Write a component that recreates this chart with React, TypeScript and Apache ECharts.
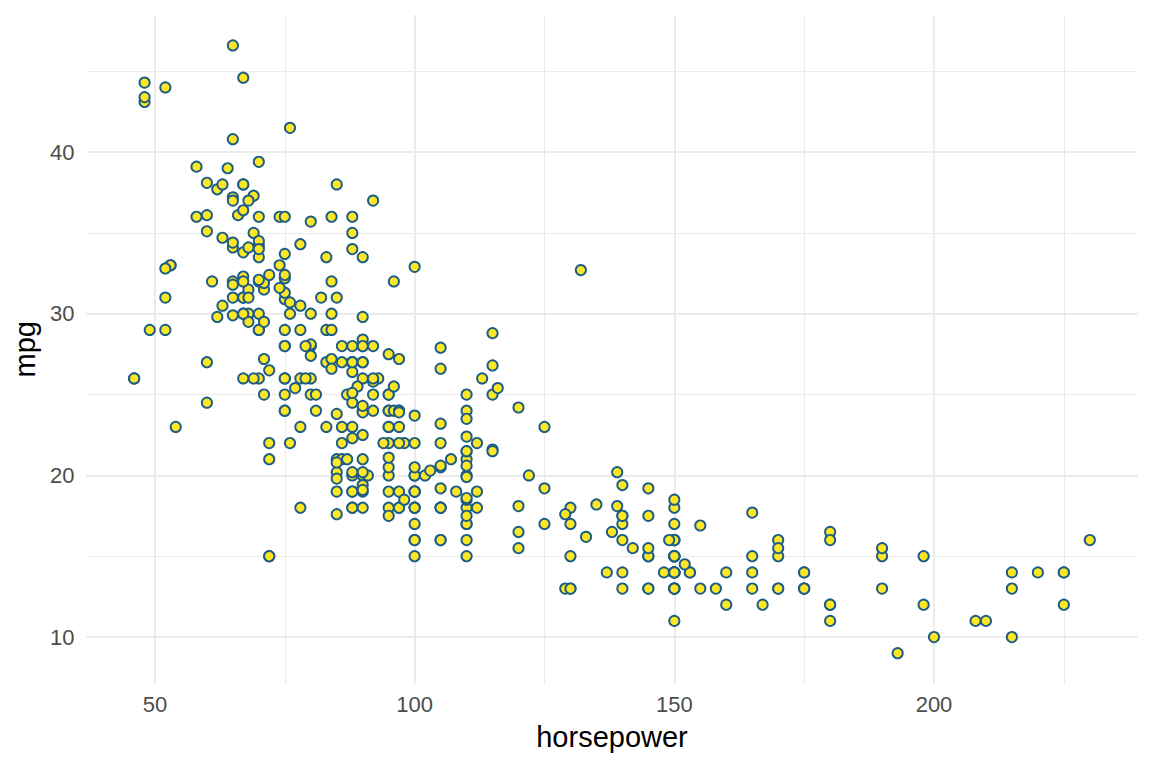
import React, { useEffect, useRef } from "react";
import * as echarts from "echarts";

const horsepower = [
  130, 165, 150, 150, 140, 198, 220, 215, 225, 190, 170, 160, 150, 225, 95, 95, 97, 85, 88, 46,
  87, 90, 95, 113, 90, 215, 200, 210, 193, 88, 90, 95, 100, 105, 100, 88, 100, 165, 175, 153,
  150, 180, 170, 175, 110, 72, 100, 88, 86, 90, 70, 76, 65, 69, 60, 70, 95, 80, 54, 90,
  86, 165, 175, 150, 153, 150, 208, 155, 160, 190, 97, 150, 130, 140, 150, 112, 76, 87, 69, 86,
  92, 97, 80, 88, 175, 150, 145, 137, 150, 198, 150, 158, 150, 215, 225, 175, 105, 100, 100, 88,
  95, 46, 150, 167, 170, 180, 100, 88, 72, 94, 90, 85, 107, 90, 145, 230, 49, 75, 91, 112,
  150, 110, 122, 180, 95, 100, 100, 67, 80, 65, 75, 100, 110, 105, 140, 150, 150, 140, 150, 83,
  67, 78, 52, 61, 75, 75, 75, 97, 93, 67, 95, 105, 72, 72, 170, 145, 150, 148, 110, 105,
  110, 95, 110, 110, 129, 75, 83, 100, 78, 96, 71, 97, 97, 70, 90, 95, 88, 98, 115, 53,
  86, 81, 92, 79, 83, 140, 150, 120, 152, 100, 105, 81, 90, 52, 60, 70, 53, 100, 78, 110,
  95, 71, 70, 75, 72, 102, 150, 88, 108, 120, 180, 145, 130, 150, 68, 80, 58, 96, 70, 145,
  110, 145, 130, 110, 105, 100, 98, 180, 170, 190, 149, 78, 88, 75, 89, 63, 83, 67, 78, 97,
  110, 110, 48, 66, 52, 70, 60, 110, 140, 139, 105, 95, 85, 88, 100, 90, 105, 85, 110, 120,
  145, 165, 139, 140, 68, 95, 97, 75, 95, 105, 85, 97, 103, 125, 115, 133, 71, 68, 115, 85,
  88, 90, 110, 130, 129, 138, 135, 155, 142, 125, 150, 71, 65, 80, 80, 77, 125, 71, 90, 70,
  70, 65, 69, 90, 115, 115, 90, 76, 60, 70, 65, 90, 88, 90, 90, 78, 90, 75, 92, 75,
  65, 105, 65, 48, 48, 67, 67, 67, 67, 62, 132, 100, 88, 72, 84, 84, 92, 110, 84, 58,
  64, 60, 67, 65, 62, 68, 63, 65, 65, 74, 75, 75, 100, 74, 80, 76, 116, 120, 110, 105,
  88, 85, 88, 88, 88, 85, 84, 90, 92, 74, 68, 68, 63, 70, 88, 75, 70, 67, 67, 67,
  110, 85, 92, 112, 96, 84, 90, 86, 52, 84, 79, 82,
];

const mpg = [
  18, 15, 18, 16, 17, 15, 14, 14, 14, 15, 15, 14, 15, 14, 24, 22, 18, 21, 27, 26,
  25, 24, 25, 26, 21, 10, 10, 11, 9, 27, 28, 25, 19, 16, 17, 19, 18, 14, 14, 14,
  14, 12, 13, 13, 18, 22, 19, 18, 23, 28, 30, 30, 31, 35, 27, 26, 24, 25, 23, 20,
  21, 13, 14, 15, 14, 17, 11, 13, 12, 13, 19, 15, 13, 13, 14, 18, 22, 21, 26, 22,
  28, 23, 28, 27, 13, 14, 13, 14, 15, 12, 13, 13, 14, 13, 12, 13, 18, 16, 18, 18,
  23, 26, 11, 12, 13, 12, 18, 20, 21, 22, 18, 19, 21, 26, 15, 16, 29, 24, 20, 19,
  15, 24, 20, 11, 20, 19, 15, 31, 26, 32, 25, 16, 16, 18, 16, 13, 14, 14, 14, 29,
  26, 26, 31, 32, 28, 24, 26, 24, 26, 31, 19, 18, 15, 15, 16, 15, 16, 14, 17, 16,
  15, 18, 21, 20, 13, 29, 23, 20, 23, 24, 25, 24, 18, 29, 19, 23, 23, 22, 25, 33,
  28, 25, 25, 26, 27, 17.5, 16, 15.5, 14.5, 22, 22, 24, 22.5, 29, 24.5, 29, 33, 20, 18, 18.5,
  17.5, 29.5, 32, 28, 26.5, 20, 13, 19, 19, 16.5, 16.5, 13, 13, 13, 31.5, 30, 36, 25.5, 33.5, 17.5,
  17, 15.5, 15, 17.5, 20.5, 19, 18.5, 16, 15.5, 15.5, 16, 29, 24.5, 26, 25.5, 30.5, 33.5, 30, 30.5, 22,
  21.5, 21.5, 43.1, 36.1, 32.8, 39.4, 36.1, 19.9, 19.4, 20.2, 19.2, 20.5, 20.2, 25.1, 20.5, 19.4, 20.6, 20.8, 18.6, 18.1,
  19.2, 17.7, 18.1, 17.5, 30, 27.5, 27.2, 30.9, 21.1, 23.2, 23.8, 23.9, 20.3, 17, 21.6, 16.2, 31.5, 29.5, 21.5, 19.8,
  22.3, 20.2, 20.6, 17, 17.6, 16.5, 18.2, 16.9, 15.5, 19.2, 18.5, 31.9, 34.1, 35.7, 27.4, 25.4, 23, 27.2, 23.9, 34.2,
  34.5, 31.8, 37.3, 28.4, 28.8, 26.8, 33.5, 41.5, 38.1, 32.1, 37.2, 28, 26.4, 24.3, 19.1, 34.3, 29.8, 31.3, 37, 32.2,
  46.6, 27.9, 40.8, 44.3, 43.4, 36.4, 30, 44.6, 33.8, 29.8, 32.7, 23.7, 35, 32.4, 27.2, 26.6, 25.8, 23.5, 30, 39.1,
  39, 35.1, 32.3, 37, 37.7, 34.1, 34.7, 34.4, 29.9, 33, 33.7, 32.4, 32.9, 31.6, 28.1, 30.7, 25.4, 24.2, 22.4, 26.6,
  20.2, 17.6, 28, 27, 34, 31, 29, 27, 24, 36, 37, 31, 38, 36, 36, 36, 34, 38, 32, 38,
  25, 38, 26, 22, 32, 36, 27, 27, 44, 32, 28, 31,
];

const xMajorTicks = [50, 100, 150, 200];
const xMinorTicks = [75, 125, 175, 225];
const yMajorTicks = [10, 20, 30, 40];
const yMinorTicks = [15, 25, 35, 45];

const FONT = "'Liberation Sans', Arial, Helvetica, sans-serif";

export default function App() {
  const ref = useRef<HTMLDivElement>(null);

  useEffect(() => {
    if (!ref.current) return;
    const chart = echarts.init(ref.current, null, { renderer: "svg" });
    const n = Math.min(horsepower.length, mpg.length);
    const data: number[][] = [];
    for (let i = 0; i < n; i++) data.push([horsepower[i], mpg[i]]);

    const xLo = Math.min(...horsepower);
    const xHi = Math.max(...horsepower);
    const yLo = Math.min(...mpg);
    const yHi = Math.max(...mpg);
    const xMin = xLo - (xHi - xLo) * 0.05;
    const xMax = xHi + (xHi - xLo) * 0.05;
    const yMin = yLo - (yHi - yLo) * 0.05;
    const yMax = yHi + (yHi - yLo) * 0.05;

    const hidden = {
      axisLine: { show: false },
      axisTick: { show: false },
    };

    chart.setOption({
      animation: false,
      backgroundColor: "#ffffff",
      grid: { left: 86.4, right: 14.4, top: 15, bottom: 84.4, containLabel: false },
      xAxis: [
        {
          type: "value",
          min: xMin,
          max: xMax,
          name: "horsepower",
          nameLocation: "middle",
          nameGap: 39,
          nameTextStyle: { fontFamily: FONT, fontSize: 29, color: "#000000" },
          axisLine: { show: false },
          axisTick: { show: false, customValues: xMajorTicks },
          axisLabel: {
            customValues: xMajorTicks,
            margin: 10,
            fontFamily: FONT,
            fontSize: 22,
            color: "#4D4D4D",
          },
          splitLine: { show: true, lineStyle: { color: "#EBEBEB", width: 2 } },
        },
        {
          type: "value",
          min: xMin,
          max: xMax,
          position: "bottom",
          ...hidden,
          axisTick: { show: false, customValues: xMinorTicks },
          axisLabel: { show: false, customValues: xMinorTicks },
          splitLine: { show: true, lineStyle: { color: "#EBEBEB", width: 1.1 } },
        },
      ],
      yAxis: [
        {
          type: "value",
          min: yMin,
          max: yMax,
          name: "mpg",
          nameLocation: "middle",
          nameGap: 44,
          nameRotate: 90,
          nameTextStyle: { fontFamily: FONT, fontSize: 29, color: "#000000" },
          axisLine: { show: false },
          axisTick: { show: false, customValues: yMajorTicks },
          axisLabel: {
            customValues: yMajorTicks,
            margin: 12,
            fontFamily: FONT,
            fontSize: 22,
            color: "#4D4D4D",
          },
          splitLine: { show: true, lineStyle: { color: "#EBEBEB", width: 2 } },
        },
        {
          type: "value",
          min: yMin,
          max: yMax,
          position: "left",
          ...hidden,
          axisTick: { show: false, customValues: yMinorTicks },
          axisLabel: { show: false, customValues: yMinorTicks },
          splitLine: { show: true, lineStyle: { color: "#EBEBEB", width: 1.1 } },
        },
      ],
      series: [
        {
          type: "scatter",
          xAxisIndex: 0,
          yAxisIndex: 0,
          data,
          symbol: "circle",
          symbolSize: 10.2,
          itemStyle: {
            color: "#FDE725",
            borderColor: "#1B5C88",
            borderWidth: 1.9,
            opacity: 1,
          },
          emphasis: { disabled: true },
          z: 5,
        },
      ],
    });

    return () => chart.dispose();
  }, []);

  return (
    <div
      ref={ref}
      style={{ position: "absolute", left: 0, top: 0, width: 1152, height: 768, background: "#ffffff" }}
    />
  );
}
